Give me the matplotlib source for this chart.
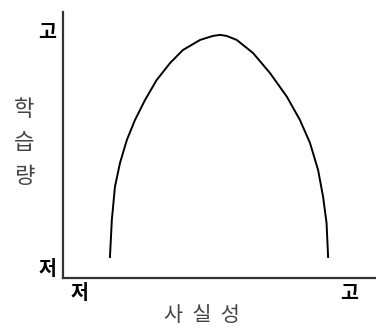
import matplotlib.pyplot as plt

plt.rcParams['font.family'] = ['Noto Sans CJK KR', 'DejaVu Sans']

# curve (x: 사실성, y: 학습량, both 0-100)
realism = [15.0, 15.6, 16.6, 18.2, 20.4, 23.0, 26.2, 29.9, 34.2, 38.3, 43.8, 47.9,
           50.2, 52.3, 55.5, 60.7, 66.1, 71.5, 75.7, 78.9, 81.5, 83.1, 84.2, 84.7]
learning = [7.9, 21.8, 34.3, 43.2, 51.9, 59.4, 66.9, 74.4, 80.8, 85.7, 89.5, 91.0,
            91.4, 91.0, 89.5, 84.6, 77.1, 68.2, 59.4, 50.8, 40.6, 30.5, 20.7, 7.9]

x_ticks = [5.4, 91.5]
y_ticks = [3.8, 93.2]
tick_labels = ['저', '고']

fig = plt.figure(figsize=(3.76, 3.31), dpi=100)
ax = fig.add_axes([63 / 376, 53 / 331, 313 / 376, 266 / 331])

ax.plot(realism, learning, color='black', linewidth=1.4, solid_joinstyle='round')

ax.set_xlim(0, 100)
ax.set_ylim(0, 100)
ax.spines['top'].set_visible(False)
ax.spines['right'].set_visible(False)
for side in ['left', 'bottom']:
    ax.spines[side].set_linewidth(1.6)
    ax.spines[side].set_color('#333333')

ax.set_xticks(x_ticks)
ax.set_xticklabels(tick_labels, fontsize=14, fontweight='bold')
ax.set_yticks(y_ticks)
ax.set_yticklabels(tick_labels, fontsize=14, fontweight='bold')
ax.tick_params(length=0)
ax.tick_params(axis='y', pad=5)
ax.tick_params(axis='x', pad=4)

ax.set_xlabel('사  실  성', fontsize=15, color='#444444', fontweight='light', va='center')
ax.xaxis.set_label_coords(0.444, -0.139)
ax.set_ylabel('학\n습\n량', fontsize=16, color='#444444', fontweight='light',
              rotation=0, linespacing=1.6, va='center', ha='center')
ax.yaxis.set_label_coords(-0.125, 0.508)

plt.savefig('out.png')
